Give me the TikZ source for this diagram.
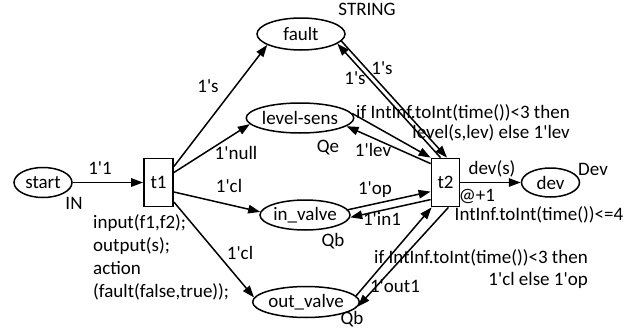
\documentclass[tikz,border=0pt]{standalone}
\usepackage{fontspec}
\setmainfont{Carlito}
\usetikzlibrary{shapes.geometric,arrows.meta}
\newcommand{\myq}{\textquotesingle}
\begin{document}
\begin{tikzpicture}[x=1pt,y=-1pt,
  every node/.style={font=\fontsize{19}{22}\selectfont},
  place/.style={ellipse, draw, line width=1.5pt, inner sep=0pt, minimum width=88pt, minimum height=31pt},
  trans/.style={rectangle, draw, line width=1.8pt, inner sep=0pt, minimum width=28pt, minimum height=48pt},
  arc/.style={-{Triangle[length=12pt,width=8.5pt]}, line width=1.5pt},
  lbl/.style={inner sep=0pt, text height=0.7em, text depth=0.2em},
  blk/.style={inner sep=0pt}
]
\useasboundingbox (0,0) rectangle (635,332);
% places and transitions
\node[place, minimum width=58pt, minimum height=30pt] (start) at (43,182.5) {start};
\node[trans, minimum width=29pt] (t1) at (158.5,182.5) {t1};
\node[place, minimum height=32pt] (fault) at (301,34) {fault};
\node[place, minimum height=30pt] (ls) at (300,118) {level-sens};
\node[place, minimum width=90pt, minimum height=30pt] (iv) at (305,215) {in\_valve};
\node[place, minimum height=31pt] (ov) at (306,302) {out\_valve};
\node[trans] (t2) at (445.5,182.5) {t2};
\node[place, minimum width=58pt, minimum height=29pt] (dev) at (550.5,182.5) {dev};
% arcs
\draw[arc] (start) -- (t1);
\draw[arc] ([yshift=16pt]t1.east) -- (fault.198);
\draw[arc] ([yshift=10pt]t1.east) -- (ls.187);
\draw[arc] ([yshift=-9.5pt]t1.east) -- (iv.176);
\draw[arc] ([yshift=-19.5pt]t1.east) -- (ov.175);
\draw[arc] (fault.-10) -- ([xshift=1.5pt]t2.north);
\draw[arc] ([xshift=-5pt]t2.north) -- (fault.-15);
\draw[arc] (ls.5) -- (t2.north west);
\draw[arc] ([yshift=-6pt]t2.north west) -- (ls.-10);
\draw[arc] (iv.7) -- ([yshift=-34pt]t2.north west);
\draw[arc] ([yshift=-42pt]t2.north west) -- (iv.-3);
\draw[arc] (ov.7) -- ([xshift=1pt]t2.south west);
\draw[arc] ([xshift=-12pt]t2.south east) -- (ov.-5);
\draw[arc] (t2) -- (dev);
% labels
\node[lbl] (l11) at (100,172) {1\myq1};
\node[lbl] (lin) at (74,207) {IN};
\node[blk, anchor=north west, align=left, font=\fontsize{19}{23}\selectfont] (insc) at (93,214)
  {input(f1,f2);\\output(s);\\action\\(fault(false,true));};
\node[lbl] (ls1) at (208,90) {1\myq s};
\node[lbl] (lnull) at (236,157) {1\myq null};
\node[lbl] (lcl1) at (229,190) {1\myq cl};
\node[lbl] (lcl2) at (240,257) {1\myq cl};
\node[lbl] (lstr) at (367,13) {STRING};
\node[lbl] (ls2) at (382,72) {1\myq s};
\node[lbl] (ls3) at (355,82) {1\myq s};
\node[lbl] (lqe) at (328,150) {Qe};
\node[lbl] (llev) at (373,154) {1\myq lev};
\node[blk, anchor=north east, align=right, font=\fontsize{19}{20.5}\selectfont] (cond1) at (570,104)
  {if IntInf.toInt(time())<3 then\\level(s,lev) else 1\myq lev};
\node[lbl] (ldevs) at (492,172) {dev(s)};
\node[lbl] (lDev) at (593,173) {Dev};
\node[lbl] (lat) at (477,198.5) {@+1};
\node[lbl] (lguard) at (539,218) {IntInf.toInt(time())<=4};
\node[lbl] (lop) at (375,192) {1\myq op};
\node[lbl] (lin1) at (382,223) {1\myq in1};
\node[lbl] (lqb1) at (333,244) {Qb};
\node[blk, anchor=north east, align=right, font=\fontsize{19}{22}\selectfont] (cond2) at (588,249)
  {if IntInf.toInt(time())<3 then\\1\myq cl else 1\myq op};
\node[lbl] (lout1) at (395,290) {1\myq out1};
\node[lbl] (lqb2) at (352,322) {Qb};
\end{tikzpicture}
\end{document}
